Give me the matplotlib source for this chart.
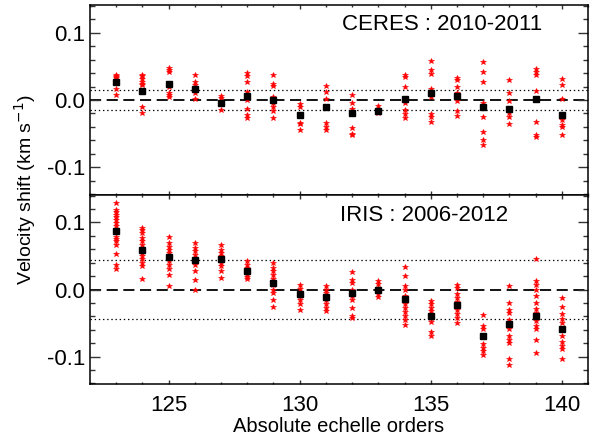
import matplotlib
matplotlib.use("Agg")
import matplotlib.pyplot as plt
from matplotlib.ticker import MultipleLocator, FormatStrFormatter

plt.rcParams['font.family'] = ['Liberation Sans', 'DejaVu Sans']
plt.rcParams['axes.unicode_minus'] = False
plt.rcParams['lines.scale_dashes'] = False

orders = [123, 124, 125, 126, 127, 128, 129, 130, 131, 132, 133, 134, 135, 136, 137, 138, 139, 140]

ceres_mean = [0.027, 0.014, 0.024, 0.017, -0.004, 0.006, 0.000, -0.022, -0.010,
              -0.020, -0.016, 0.0015, 0.010, 0.006, -0.011, -0.013, 0.002, -0.022]

ceres_stars = [
    [0.037, 0.036, 0.034, 0.032, 0.016, 0.007],
    [0.037, 0.035, 0.031, 0.027, 0.024, 0.022, -0.010, -0.019],
    [0.047, 0.044, 0.041, 0.020, 0.010, 0.007, 0.005],
    [0.037, 0.026, 0.022, 0.017, 0.010, 0.002],
    [0.006, 0.003, -0.005, -0.015],
    [0.040, 0.035, 0.026, 0.012, 0.000, -0.014, -0.022, -0.027],
    [0.037, 0.024, 0.021, 0.005, 0.000, -0.005, -0.011, -0.017, -0.026],
    [-0.006, -0.010, -0.034, -0.036, -0.045],
    [0.021, 0.012, 0.002, -0.034, -0.040, -0.045],
    [0.007, -0.004, -0.013, -0.041, -0.050, -0.052],
    [-0.009, -0.015, -0.020],
    [0.037, 0.034, 0.020, -0.005, -0.015, -0.021, -0.027],
    [0.058, 0.045, 0.039, 0.017, 0.005, -0.021, -0.025, -0.032],
    [0.033, 0.029, 0.020, 0.010, -0.002, -0.016, -0.024],
    [0.056, 0.042, 0.026, -0.005, -0.025, -0.047, -0.060, -0.067],
    [0.029, 0.011, -0.002, -0.020, -0.025, -0.035],
    [0.046, 0.042, 0.037, 0.014, -0.032, -0.052, -0.055],
    [0.031, 0.022, 0.001, -0.030, -0.037, -0.040, -0.052],
]

iris_mean = [0.087, 0.059, 0.049, 0.044, 0.046, 0.027, 0.009, -0.007, -0.011,
             -0.005, -0.001, -0.014, -0.040, -0.023, -0.069, -0.051, -0.040, -0.059]

iris_stars = [
    [0.129, 0.119, 0.115, 0.111, 0.108, 0.104, 0.099, 0.095, 0.079, 0.075, 0.072, 0.067, 0.053, 0.037, 0.031],
    [0.092, 0.089, 0.085, 0.077, 0.072, 0.067, 0.054, 0.050, 0.045, 0.040, 0.035, 0.016],
    [0.078, 0.069, 0.064, 0.059, 0.054, 0.042, 0.037, 0.030, 0.022, 0.005],
    [0.070, 0.062, 0.057, 0.052, 0.047, 0.042, 0.036, 0.027, 0.014, 0.000],
    [0.066, 0.059, 0.054, 0.050, 0.045, 0.039, 0.035, 0.027, 0.017],
    [0.042, 0.037, 0.032, 0.027, 0.022, 0.019, 0.015],
    [0.039, 0.032, 0.027, 0.022, 0.015, 0.007, 0.000, -0.005, -0.015, -0.026],
    [0.006, 0.001, -0.005, -0.010, -0.016, -0.022, -0.031],
    [0.005, 0.000, -0.005, -0.010, -0.016, -0.022, -0.027, -0.032],
    [0.026, 0.014, 0.010, 0.000, -0.009, -0.016, -0.027, -0.040, -0.043],
    [0.012, 0.008, 0.002, -0.002, -0.006, -0.011],
    [0.033, 0.020, 0.005, 0.000, -0.010, -0.016, -0.022, -0.027, -0.034, -0.040, -0.045, -0.053],
    [-0.017, -0.021, -0.027, -0.032, -0.037, -0.042, -0.049, -0.064, -0.069],
    [0.007, 0.002, -0.006, -0.012, -0.019, -0.024, -0.030, -0.036, -0.042, -0.050],
    [-0.038, -0.055, -0.059, -0.069, -0.082, -0.087, -0.092, -0.097],
    [0.005, -0.020, -0.030, -0.035, -0.045, -0.050, -0.059, -0.069, -0.075, -0.080, -0.104, -0.113],
    [0.046, 0.012, 0.007, 0.000, -0.009, -0.020, -0.029, -0.035, -0.047, -0.054, -0.059, -0.076, -0.094],
    [-0.012, -0.026, -0.036, -0.044, -0.050, -0.059, -0.069, -0.078, -0.084, -0.089, -0.103],
]

panel_labels = ["CERES : 2010-2011", "IRIS : 2006-2012"]
dotted_levels = [0.015, 0.044]

W, H = 599, 443
fig = plt.figure(figsize=(W / 100, H / 100), dpi=100)
left, right = 90 / W, 588 / W
ax_top = fig.add_axes([left, 1 - 195 / H, right - left, 190 / H])
ax_bot = fig.add_axes([left, 1 - 384 / H, right - left, 189 / H])

label_pos = [(0.908, 0.90), (0.839, 0.894)]

for ax, means, stars, label, lev, pos in [
        (ax_top, ceres_mean, ceres_stars, panel_labels[0], dotted_levels[0], label_pos[0]),
        (ax_bot, iris_mean, iris_stars, panel_labels[1], dotted_levels[1], label_pos[1])]:
    xs, ys = [], []
    for o, st in zip(orders, stars):
        xs.extend([o] * len(st))
        ys.extend(st)
    ax.plot(xs, ys, linestyle='none', marker='*', color='red', markersize=4.0,
            markeredgewidth=0.4, zorder=2)
    ax.plot(orders, means, linestyle='none', marker='s', color='black', markersize=4.2, zorder=3)
    ax.axhline(0, color='black', lw=1.3, linestyle=(0, (8, 4)), zorder=1)
    ax.axhline(lev, color='black', lw=0.9, linestyle=(0, (1, 2)), zorder=1)
    ax.axhline(-lev, color='black', lw=0.9, linestyle=(0, (1, 2)), zorder=1)
    ax.set_xlim(122, 141)
    ax.set_ylim(-0.141, 0.141)
    ax.xaxis.set_major_locator(MultipleLocator(5))
    ax.xaxis.set_minor_locator(MultipleLocator(1))
    ax.yaxis.set_major_locator(MultipleLocator(0.1))
    ax.yaxis.set_minor_locator(MultipleLocator(0.02))
    ax.yaxis.set_major_formatter(FormatStrFormatter('%.1f'))
    ax.tick_params(axis='both', which='both', direction='in', top=True, right=True,
                   labelsize=16, width=1.0, color='#333333')
    ax.tick_params(axis='y', which='major', length=7.2)
    ax.tick_params(axis='y', which='minor', length=3.6)
    ax.tick_params(axis='x', which='major', length=3.0, pad=8)
    ax.tick_params(axis='x', which='minor', length=1.6)
    for sp in ax.spines.values():
        sp.set_linewidth(1.1)
    ax.text(pos[0], pos[1], label, transform=ax.transAxes, ha='right', va='center', fontsize=16)

ax_top.set_xticklabels([])

ax_bot.set_xlabel("Absolute echelle orders", fontsize=14.5, labelpad=1)
fig.text(25 / W, 1 - 190 / H, "Velocity shift (km s$^{-1}$)", rotation=90,
         ha='center', va='center', fontsize=14)

fig.savefig("out.png", dpi=100)
